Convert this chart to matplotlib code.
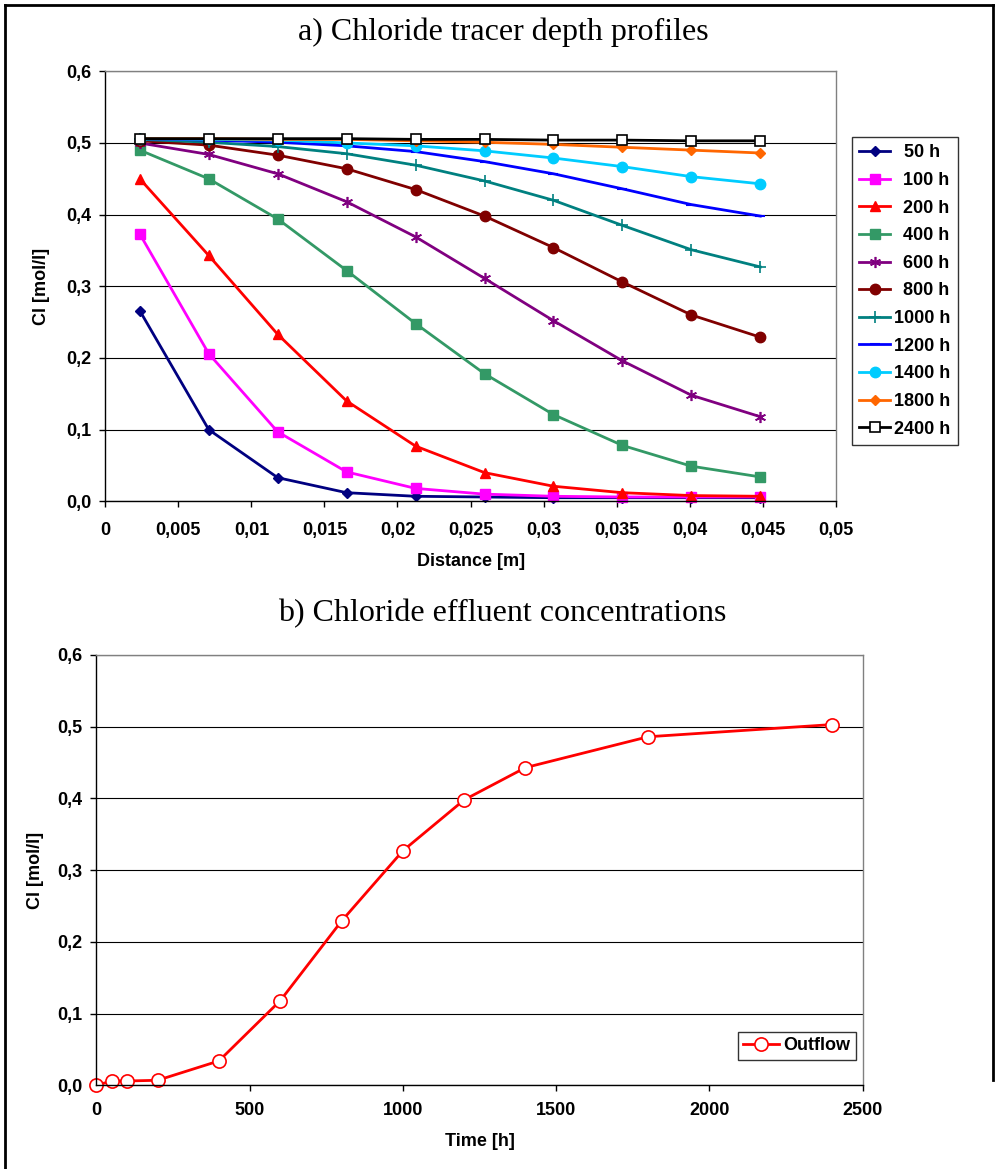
import matplotlib
matplotlib.use("Agg")
import matplotlib.pyplot as plt
from matplotlib.lines import Line2D
from matplotlib.font_manager import FontProperties
from matplotlib.ticker import FuncFormatter, MultipleLocator

# ---- data -------------------------------------------------------------
distance = [0.00236, 0.00708, 0.0118, 0.01652, 0.02124,
            0.02596, 0.03068, 0.0354, 0.04012, 0.04484]

profile_labels = ["50 h", "100 h", "200 h", "400 h", "600 h", "800 h",
                  "1000 h", "1200 h", "1400 h", "1800 h", "2400 h"]

c_50 = [0.266, 0.100, 0.033, 0.012, 0.007, 0.006, 0.005, 0.005, 0.005, 0.005]
c_100 = [0.373, 0.206, 0.097, 0.041, 0.018, 0.010, 0.007, 0.006, 0.006, 0.006]
c_200 = [0.450, 0.343, 0.233, 0.140, 0.077, 0.040, 0.021, 0.012, 0.008, 0.007]
c_400 = [0.490, 0.450, 0.394, 0.322, 0.248, 0.178, 0.121, 0.078, 0.049, 0.034]
c_600 = [0.500, 0.484, 0.457, 0.418, 0.369, 0.311, 0.252, 0.196, 0.148, 0.118]
c_800 = [0.503, 0.497, 0.483, 0.464, 0.435, 0.398, 0.354, 0.306, 0.260, 0.229]
c_1000 = [0.505, 0.501, 0.495, 0.485, 0.469, 0.447, 0.420, 0.385, 0.351, 0.327]
c_1200 = [0.506, 0.504, 0.501, 0.496, 0.488, 0.474, 0.457, 0.436, 0.414, 0.398]
c_1400 = [0.506, 0.505, 0.504, 0.500, 0.496, 0.489, 0.479, 0.467, 0.453, 0.443]
c_1800 = [0.506, 0.506, 0.505, 0.505, 0.503, 0.501, 0.498, 0.494, 0.490, 0.486]
c_2400 = [0.506, 0.506, 0.506, 0.506, 0.505, 0.505, 0.504, 0.504, 0.503, 0.503]

outflow_time = [0, 50, 100, 200, 400, 600, 800, 1000, 1200, 1400, 1800, 2400]
outflow_cl = [0.0, 0.006, 0.006, 0.007, 0.034, 0.118, 0.229, 0.327,
              0.398, 0.443, 0.486, 0.503]

profiles = [c_50, c_100, c_200, c_400, c_600, c_800,
            c_1000, c_1200, c_1400, c_1800, c_2400]

# ---- styles -------------------------------------------------------------
styles = [
    dict(color="#000080", marker="D", ms=5.5, mfc="#000080", mec="#000080"),
    dict(color="#FF00FF", marker="s", ms=7, mfc="#FF00FF", mec="#FF00FF"),
    dict(color="#FF0000", marker="^", ms=7.5, mfc="#FF0000", mec="#FF0000"),
    dict(color="#339966", marker="s", ms=7, mfc="#339966", mec="#339966"),
    dict(color="#800080", marker=(6, 2, 0), ms=8, mfc="#800080", mec="#800080", mew=1.2),
    dict(color="#800000", marker="o", ms=7.5, mfc="#800000", mec="#800000"),
    dict(color="#008080", marker="+", ms=8, mfc="#008080", mec="#008080", mew=1.2),
    dict(color="#0000FF", marker="_", ms=7, mfc="#0000FF", mec="#0000FF", mew=1.5),
    dict(color="#00CCFF", marker="o", ms=7.5, mfc="#00CCFF", mec="#00CCFF"),
    dict(color="#FF6600", marker="D", ms=5.5, mfc="#FF6600", mec="#FF6600"),
    dict(color="#000000", marker="s", ms=7, mfc="#FFFFFF", mec="#000000", mew=1.2),
]

SANS = ["Liberation Sans", "DejaVu Sans"]
FS = 13
LEG_PROP = FontProperties(family=SANS, weight="bold", size=FS)

fig = plt.figure(figsize=(9.97, 11.69), dpi=100)
W, H = 997.0, 1169.0


def fig_axes(left, top, right, bottom):
    return fig.add_axes([left / W, 1 - bottom / H, (right - left) / W, (bottom - top) / H])


def style_axes(ax, xpad):
    ax.set_ylim(0, 0.6)
    ax.yaxis.set_major_locator(MultipleLocator(0.1))
    ax.yaxis.set_major_formatter(FuncFormatter(lambda v, p: f"{v:.1f}".replace(".", ",")))
    ax.grid(axis="y", color="black", linewidth=0.8)
    ax.set_axisbelow(True)
    for side in ("top", "right"):
        ax.spines[side].set_color("#808080")
        ax.spines[side].set_linewidth(1.0)
    for side in ("left", "bottom"):
        ax.spines[side].set_color("black")
        ax.spines[side].set_linewidth(1.0)
    ax.tick_params(direction="out", length=4, width=1, pad=6, labelsize=FS)
    ax.tick_params(axis="x", pad=xpad)
    for lab in ax.get_xticklabels() + ax.get_yticklabels():
        lab.set_fontfamily(SANS)
        lab.set_fontweight("bold")


def centred(label):
    # pad shorter labels so they sit centred under the longest ones
    digits = len(label.split()[0])
    if digits == 2:
        return "\u2007" + label
    if digits == 3:
        return "\u2002" + label
    return label


# ---- a) depth profiles --------------------------------------------------
ax1 = fig_axes(105.3, 71.3, 835.7, 501.3)
for vals, lab, st in zip(profiles, profile_labels, styles):
    ax1.plot(distance, vals, linewidth=2.0, label=centred(lab), clip_on=False, **st)
ax1.set_xlim(0, 0.05)
ax1.xaxis.set_major_locator(MultipleLocator(0.005))


def dist_fmt(v, p):
    s = f"{v:.3f}".rstrip("0").rstrip(".")
    return s.replace(".", ",")


ax1.xaxis.set_major_formatter(FuncFormatter(dist_fmt))
style_axes(ax1, xpad=11)

leg1 = ax1.legend(loc="upper left", bbox_to_anchor=(852 / W, 1 - 137 / H),
                  bbox_transform=fig.transFigure, borderaxespad=0,
                  prop=LEG_PROP, frameon=True, fancybox=False, edgecolor="black",
                  handlelength=1.7, handletextpad=0.25, labelspacing=0.59,
                  borderpad=0.4, markerscale=1.0)
leg1.get_frame().set_linewidth(1.0)

fig.text(503 / W, 1 - 32 / H, "a) Chloride tracer depth profiles",
         ha="center", va="center", family="Liberation Serif", fontsize=23)
fig.text(471 / W, 1 - 561 / H, "Distance [m]", ha="center", va="center",
         fontsize=FS, family=SANS, weight="bold")
fig.text(41 / W, 1 - 286 / H, "Cl [mol/l]", ha="center", va="center",
         rotation=90, fontsize=FS, family=SANS, weight="bold")

# ---- b) effluent concentrations ----------------------------------------
ax2 = fig_axes(96.3, 655, 862.7, 1085.3)
ax2.plot(outflow_time, outflow_cl, color="#FF0000", linewidth=2.0,
         marker="o", ms=9.5, mfc="white", mec="#FF0000", mew=1.2,
         label="Outflow", clip_on=False)
ax2.set_xlim(0, 2500)
ax2.xaxis.set_major_locator(MultipleLocator(500))
ax2.xaxis.set_major_formatter(FuncFormatter(lambda v, p: f"{v:.0f}"))
style_axes(ax2, xpad=8)

leg2 = ax2.legend(loc="upper right", bbox_to_anchor=(856 / W, 1 - 1032 / H),
                  bbox_transform=fig.transFigure, borderaxespad=0,
                  prop=LEG_PROP, frameon=True, fancybox=False, edgecolor="black",
                  handlelength=2.0, handletextpad=0.25, borderpad=0.3)
leg2.get_frame().set_linewidth(1.0)

fig.text(502 / W, 1 - 614 / H, "b) Chloride effluent concentrations",
         ha="center", va="center", family="Liberation Serif", fontsize=23)
fig.text(480 / W, 1 - 1142 / H, "Time [h]", ha="center", va="center",
         fontsize=FS, family=SANS, weight="bold")
fig.text(35 / W, 1 - 870 / H, "Cl [mol/l]", ha="center", va="center",
         rotation=90, fontsize=FS, family=SANS, weight="bold")

# ---- outer frame --------------------------------------------------------
frame_kw = dict(transform=fig.transFigure, color="black", linewidth=2.0)
fig.add_artist(Line2D([5 / W, 5 / W], [0, 1 - 5 / H], **frame_kw))
fig.add_artist(Line2D([5 / W, 993 / W], [1 - 5 / H, 1 - 5 / H], **frame_kw))
fig.add_artist(Line2D([993 / W, 993 / W], [1 - 5 / H, 1 - 1080 / H], **frame_kw))

fig.savefig("out.png", dpi=100)
